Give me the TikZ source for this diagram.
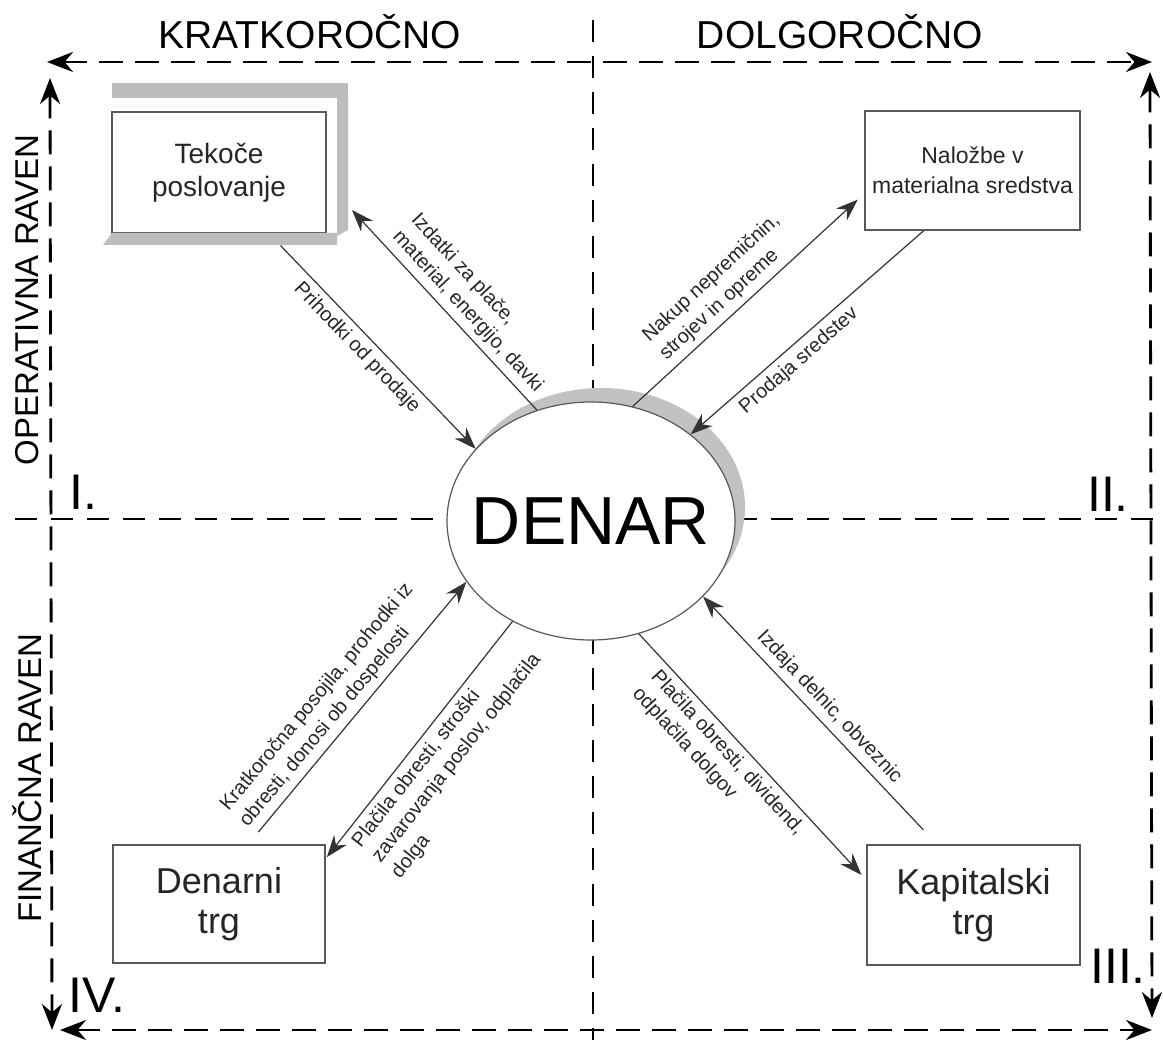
\documentclass[tikz,border=0pt]{standalone}
\usepackage{fontspec}
\setmainfont{Liberation Sans}
\usetikzlibrary{arrows.meta, shapes.geometric, positioning}

\begin{document}
\begin{tikzpicture}[x=0.5pt,y=0.5pt,->,>={Stealth[length=11pt,width=8pt]},
                    line width=0.6pt]
\tikzstyle{every node}=[text=black!85]
\tikzset{box/.style={rectangle,draw=black!65,fill=white,line width=0.6pt,inner sep=2pt,align=center},
         flowlabel/.style={font=\fontsize{10}{12.5}\selectfont,align=left,sloped,inner sep=3pt},
         frameline/.style={-, line width=1.4pt, dash pattern=on 12pt off 6pt,
                           {Stealth[length=13pt,width=10pt]}-{Stealth[length=13pt,width=10pt]}},
         divider/.style={-, line width=1.1pt, dash pattern=on 11pt off 7pt},
         numeral/.style={font=\fontsize{25}{30}\selectfont,text=black},
         heading/.style={font=\fontsize{19.5}{23}\selectfont,text=black}}

\useasboundingbox (0,0) rectangle (1163,-1042);

        % frame and quadrant lines
        \coordinate (tlh) at (47,-62);    \coordinate (trh) at (1152,-62);
        \coordinate (tlv) at (50,-78);    \coordinate (blv) at (52,-1030);
        \coordinate (trv) at (1150,-72);  \coordinate (brv) at (1152,-1018);
        \coordinate (blh) at (60,-1030);  \coordinate (brh) at (1152,-1030);
        \coordinate (vtop) at (593,-20);  \coordinate (vbot) at (593,-1040);
        \coordinate (hleft) at (15,-519); \coordinate (hright) at (1160,-519);

        \draw[divider] (vtop) -- (vbot);
        \draw[divider] (hleft) -- (hright);
        \draw[frameline] (tlh) -- (trh);
        \draw[frameline] (tlv) -- (blv);
        \draw[frameline] (trv) -- (brv);
        \draw[frameline] (blh) -- (brh);

        \node[heading]   (kratko) at (310,-32)  {KRATKOROČNO};
        \node[heading]   (dolgo)  at (840,-32)  {DOLGOROČNO};
        \node[heading, font=\fontsize{16.5}{20}\selectfont, rotate=90] (oper) at (27,-300) {OPERATIVNA RAVEN};
        \node[heading, font=\fontsize{16.5}{20}\selectfont, rotate=90] (fin)  at (27,-778) {FINANČNA RAVEN};

        \node[numeral] (q1) at (83,-492)   {I.};
        \node[numeral] (q2) at (1108,-494) {II.};
        \node[numeral] (q3) at (1118,-966) {III.};
        \node[numeral] (q4) at (97,-995)   {IV.};

        % central node with its shadow
        \fill[black!24] (601,-507) ellipse [x radius=72pt, y radius=59.5pt];
        \node[ellipse,draw=black!65,fill=white,minimum width=144pt,minimum height=119pt,inner sep=0pt,
              font=\fontsize{34}{40}\selectfont,text=black] (den) at (591,-521) {\makebox[0pt]{DENAR}};

        \node[box, minimum width=107pt, minimum height=60.5pt, font=\fontsize{14}{16.5}\selectfont]
              (tek) at (219,-172.5) {Tekoče\\poslovanje};
        \node[rectangle, draw=none, minimum width=122.5pt, minimum height=81pt] (tekS) at (225.5,-164) {};
        \node[box, minimum width=107.5pt, minimum height=59.5pt, font=\fontsize{11.5}{15}\selectfont]
              (nal) at (972.5,-170.5) {Naložbe v\\materialna sredstva};
        \node[box, minimum width=106pt, minimum height=59pt, font=\fontsize{18}{20}\selectfont]
              (dtrg) at (219,-904) {Denarni\\trg};
        \node[box, minimum width=106.5pt, minimum height=60pt, font=\fontsize{18}{20}\selectfont]
              (ktrg) at (973.5,-905) {Kapitalski\\trg};

        \path[->, every edge/.append style={draw=black!80}]
        (tekS.-56) edge node[flowlabel, below, pos=0.45] {Prihodki od prodaje}   (den.148)
        (den.116)  edge[shorten >=2.5pt] node[flowlabel, above, pos=0.43] {Izdatki za plače,\\material, energijo, davki} (tekS.-19)
        (den.70)   edge[shorten >=4.5pt] node[flowlabel, above, pos=0.46] {Nakup nepremičnin,\\strojev in opreme} (nal.192)
        (nal.231)  edge node[flowlabel, below, pos=0.58] {Prodaja sredstev}     (den.41)
        (dtrg.64)  edge[shorten <=8pt] node[flowlabel, above, pos=0.46] {Kratkoročna posojila, prohodki iz\\obresti, donosi ob dospelosti} (den.206)
        (den.232)  edge[shorten >=1pt] node[flowlabel, below, pos=0.47] {Plačila obresti, stroški\\zavarovanja poslov, odplačila\\dolga} (dtrg.23)
        (den.293)  edge[shorten >=3.6pt] node[flowlabel, below, pos=0.44] {Plačila obresti, dividend,\\odplačila dolgov} (ktrg.167)
        (ktrg.121) edge[shorten <=10pt] node[flowlabel, above, pos=0.51] {Izdaja delnic, obveznic} (den.326)
        ; %end path

        % raised frame round Tekoce poslovanje
        \fill[black!26] (112,-83) rectangle (348,-98);
        \fill[black!26] (337,-98) -- (348,-98) -- (348,-230) -- (337,-236) -- cycle;
        \fill[black!26] (103,-245) -- (337,-245) -- (337,-233) -- (112,-233) -- cycle;

\end{tikzpicture}
\end{document}
